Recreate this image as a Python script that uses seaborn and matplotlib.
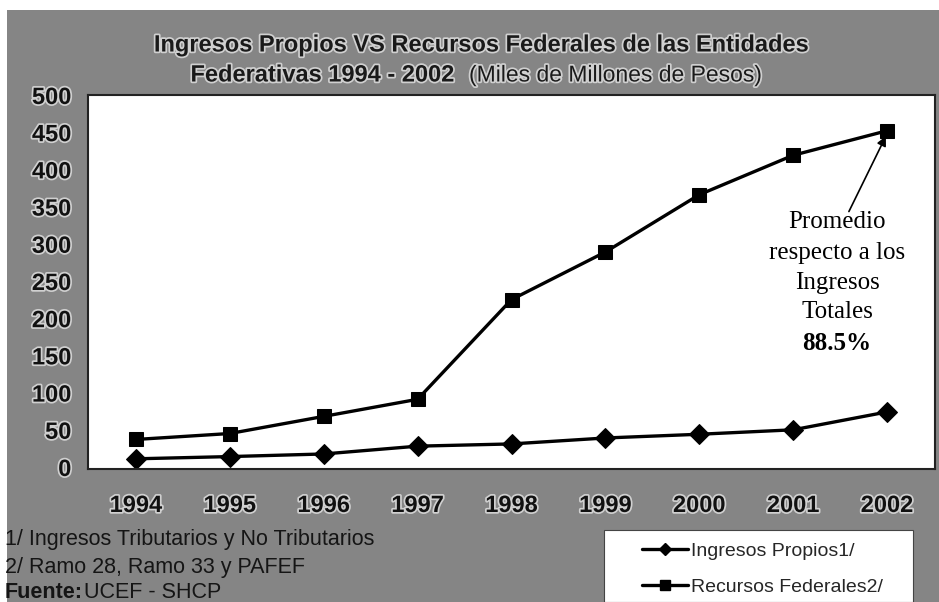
import matplotlib
matplotlib.use("Agg")
import matplotlib.pyplot as plt
import matplotlib.patheffects as pe
from matplotlib.patches import Rectangle
from matplotlib.lines import Line2D
import seaborn as sns
import pandas as pd

years = ["1994", "1995", "1996", "1997", "1998", "1999", "2000", "2001", "2002"]
ingresos_propios = [11, 14, 17.5, 28, 31, 39, 44, 50, 74]
recursos_federales = [37, 45, 68, 91, 225, 289, 366, 419, 452]
yticks = [0, 50, 100, 150, 200, 250, 300, 350, 400, 450, 500]
series_names = ["Ingresos Propios1/", "Recursos Federales2/"]

sns.set_style("white")
sans = ["Liberation Sans", "DejaVu Sans"]
serif = ["Liberation Serif", "DejaVu Serif"]
plt.rcParams["font.family"] = sans

df = pd.DataFrame({
    "x": list(range(len(years))) * 2,
    "value": ingresos_propios + recursos_federales,
    "serie": [series_names[0]] * len(years) + [series_names[1]] * len(years),
})

fig = plt.figure(figsize=(9.39, 6.02), dpi=100, facecolor="white")
# grey panel as a background axes
bg = fig.add_axes([7 / 939, 0, 1 - 7 / 939, 1 - 10 / 602], zorder=-5)
bg.set_facecolor("#858585")
bg.set_xticks([])
bg.set_yticks([])
for sp in bg.spines.values():
    sp.set_visible(False)

ax = fig.add_axes([88 / 939, 1 - 469 / 602, (935 - 88) / 939, (469 - 95) / 602], zorder=2)
ax.set_facecolor("white")

sns.lineplot(data=df, x="x", y="value", hue="serie", style="serie",
             markers={series_names[0]: "D", series_names[1]: "s"},
             dashes=False, palette=["black", "black"], linewidth=2.4,
             markersize=10, markeredgecolor="black", ax=ax, legend=False)

ax.set_xlim(-0.51, len(years) - 0.49)
ax.set_ylim(-2.7, 500)
ax.set_xlabel("")
ax.set_ylabel("")
ax.set_xticks(range(len(years)))
ax.set_xticklabels(years)
ax.set_yticks(yticks)
ax.set_yticklabels([str(v) for v in yticks])
for sp in ax.spines.values():
    sp.set_color("#222222")
    sp.set_linewidth(1.5)
ax.tick_params(axis="x", pad=18, length=0)
ax.tick_params(axis="y", pad=12, length=0)
halo = [pe.withStroke(linewidth=2.5, foreground="#d0d0d0")]
for lab in ax.get_xticklabels() + ax.get_yticklabels():
    lab.set_fontsize(17)
    lab.set_fontweight("bold")
    lab.set_color("#111111")
    lab.set_path_effects(halo)

# title
fig.text(482 / 939, 1 - 45 / 602, "Ingresos Propios VS Recursos Federales de las Entidades",
         ha="center", va="center", fontsize=17, fontweight="bold", color="#1a1a1a",
         path_effects=halo)
fig.text(455 / 939, 1 - 75 / 602, "Federativas 1994 - 2002", ha="right", va="center",
         fontsize=17, fontweight="bold", color="#1a1a1a", path_effects=halo)
fig.text(469 / 939, 1 - 75 / 602, "(Miles de Millones de Pesos)", ha="left", va="center",
         fontsize=16.5, color="#1a1a1a", path_effects=halo)

# annotation
ax.annotate("", xy=(8, 448), xytext=(7.58, 340),
            arrowprops=dict(arrowstyle="-|>", color="black", lw=1.2, mutation_scale=14))
ann_lines = ["Promedio", "respecto a los", "Ingresos", "Totales"]
ann_y = [222, 253, 283, 312]
for t, yy in zip(ann_lines, ann_y):
    ax.text(837 / 939, 1 - yy / 602, t, ha="center", va="center", fontsize=18,
            family=serif, color="black", transform=fig.transFigure)
ax.text(837 / 939, 1 - 343 / 602, "88.5%", ha="center", va="center", fontsize=18,
        family=serif, fontweight="bold", color="black", transform=fig.transFigure)

# footnotes
fs = 15.5
fig.text(5 / 939, 1 - 540 / 602, "1/ Ingresos Tributarios y No Tributarios", ha="left",
         va="center", fontsize=fs, color="#151515")
fig.text(5 / 939, 1 - 567 / 602, "2/ Ramo 28, Ramo 33 y PAFEF", ha="left", va="center",
         fontsize=fs, color="#151515")
fig.text(5 / 939, 1 - 592 / 602, "Fuente:", ha="left", va="center", fontsize=fs,
         fontweight="bold", color="#151515")
fig.text(84 / 939, 1 - 592 / 602, "UCEF - SHCP", ha="left", va="center", fontsize=fs,
         color="#151515")

# legend box
fig.patches.append(Rectangle((604 / 939, 0), (913 - 604) / 939, (602 - 530) / 602,
                             transform=fig.transFigure, facecolor="white",
                             edgecolor="#444444", lw=0.8, zorder=1))
handles = [Line2D([], [], color="black", lw=2.4, marker="D", markersize=6),
           Line2D([], [], color="black", lw=2.4, marker="s", markersize=7)]
leg = fig.legend(handles, series_names, loc="upper left",
                 bbox_to_anchor=(624 / 939, 1 - 525 / 602), frameon=False,
                 fontsize=14, handlelength=2.4, handletextpad=0.15, labelspacing=0.95)
leg.set_zorder(3)

fig.savefig("out.png", dpi=100, facecolor=fig.get_facecolor())
